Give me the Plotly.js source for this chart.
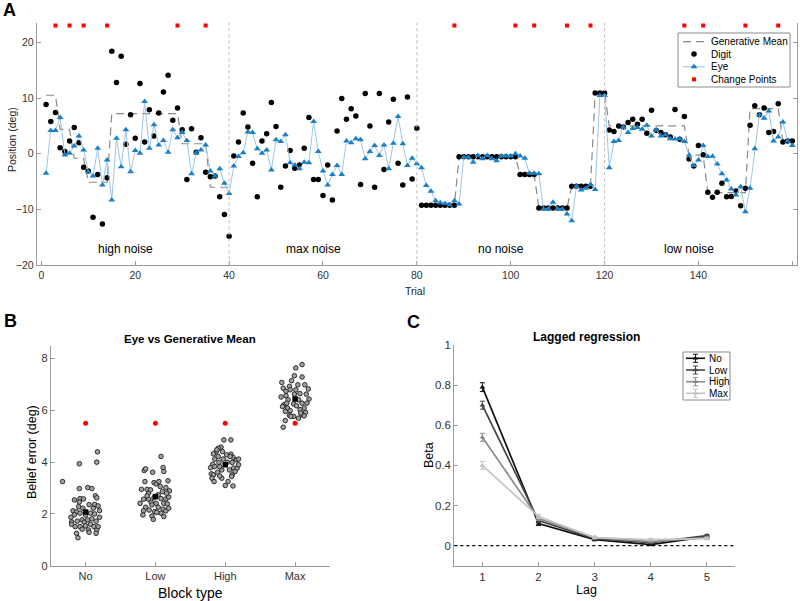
<!DOCTYPE html>
<html><head><meta charset="utf-8">
<script src="https://cdn.plot.ly/plotly-3.0.1.min.js"></script>
<style>html,body{margin:0;padding:0;background:#fff}#chart{width:800px;height:601px}</style>
</head><body><div id="chart"></div>
<script>
// ---------- Panel A data (trials 1..160) ----------
const digit = [
 8.85,5.8,7.4,1.1,0.4,2.3,4.7,2.0,-2.4,-3.1,-11.4,-3.7,-12.6,-4.3,18.4,12.8,17.5,1.7,7.0,2.8,
 12.6,2.1,7.9,3.2,7.3,11.1,14.1,6.0,8.2,4.3,-4.6,4.5,0.3,2.9,-3.3,-4.1,-4.0,-7.7,-10.9,-14.8,
 -0.4,2.1,7.3,4.8,-1.7,-7.7,2.3,3.6,9.2,4.9,-6.0,-2.2,0.6,-2.6,-2.0,1.0,6.5,-4.6,-4.6,-7.5,
 -2.0,-8.3,4.1,9.9,6.2,8.1,6.8,-5.5,10.8,5.0,-6.0,10.8,-2.8,5.7,9.8,-1.7,-5.6,10.2,-4.5,4.6,
 -9.25,-9.25,-9.25,-9.25,-9.25,-9.25,-9.25,-9.25,-0.55,-0.55,-0.55,-0.55,-0.55,-0.55,-0.55,-0.55,-0.55,-0.55,
 -0.55,-0.55,-0.55,-3.7,-3.7,-3.7,-3.7,-9.7,-9.7,-9.7,-9.7,-9.7,-9.7,-9.7,-5.8,-5.8,-5.8,-5.8,-5.8,10.9,10.9,10.9,
 4.25,4.0,5.0,4.8,5.6,6.2,5.3,6.2,3.7,7.8,4.2,3.8,3.4,3.0,7.95,2.6,6.7,-0.95,-2.2,1.5,
 -0.15,-6.9,-7.8,-6.9,-5.3,-7.7,-7.65,-6.65,-9.3,-6.2,5.1,8.6,7.0,8.2,3.8,4.0,9.0,2.1,2.3,2.3
];
const eye = [
 -3.5,4.2,4.2,6.5,-0.2,0.1,1.4,3.2,0.7,-3.2,-4.0,1.0,-5.6,-1.1,-8.3,2.8,-2.3,4.3,-3.2,0.6,
 0.1,9.4,1.0,5.2,1.6,2.4,0.3,4.3,2.9,3.8,2.4,-3.6,0.2,0.7,1.6,-3.1,-4.0,-2.7,-5.3,-7.1,
 -2.2,-0.5,0.2,3.9,3.8,0.9,0.1,0.7,-2.9,2.5,2.2,3.4,-1.6,-2.0,-2.7,-1.5,-1.6,5.8,0.4,-3.1,
 -5.6,-3.7,-2.1,-3.7,2.3,2.0,2.7,2.5,-0.9,0.4,1.5,-0.3,1.6,-2.7,1.9,6.7,1.8,-2.1,-0.8,-1.8,
 -2.5,-5.7,-6.7,-8.4,-8.8,-8.9,-9.2,-8.4,-9.0,-0.6,-0.6,-1.5,-0.3,-0.9,-0.3,-0.9,-1.25,-0.4,-0.4,-0.4,
 0.0,-0.4,-0.8,-3.5,-3.5,-3.6,-9.9,-9.9,-8.7,-9.9,-9.9,-10.8,-12.0,-5.8,-6.5,-6.2,-5.5,-6.4,10.45,10.45,
 -2.5,2.2,2.4,4.8,3.8,4.55,4.7,4.4,5.1,3.2,4.3,3.2,3.4,2.7,2.65,2.7,2.2,-0.2,-2.1,-1.1,
 1.5,-0.5,-0.45,-1.85,-3.6,-4.7,-6.3,-7.4,-5.9,-10.4,-6.2,0.9,7.0,6.4,7.7,2.3,3.0,5.7,2.3,1.5
];
const genMean = [
 10.5,10.5,10.5,4.4,4.4,4.4,-0.8,-0.8,-0.8,-5.1,-5.1,-5.1,-5.1,-5.1,7.2,7.2,7.2,7.2,7.2,7.2,
 7.2,7.2,7.2,7.2,7.2,7.2,7.2,7.2,7.2,1.8,1.8,1.8,1.8,1.8,1.8,-6.0,-6.0,-6.0,-6.0,-6.0,
 null,null,null,null,null,null,null,null,null,null,null,null,null,null,null,null,null,null,null,null,
 null,null,null,null,null,null,null,null,null,null,null,null,null,null,null,null,null,null,null,null,
 -9.25,-9.25,-9.25,-9.25,-9.25,-9.25,-9.25,-9.25,-0.55,-0.55,-0.55,-0.55,-0.55,-0.55,-0.55,-0.55,-0.55,-0.55,
 -0.55,-0.55,-0.55,-3.7,-3.7,-3.7,-3.7,-9.7,-9.7,-9.7,-9.7,-9.7,-9.7,-9.7,-5.8,-5.8,-5.8,-5.8,-5.8,10.9,10.9,10.9,
 5.0,5.0,5.0,5.0,5.0,5.0,5.0,5.0,5.0,5.0,5.0,5.0,5.0,5.0,5.0,5.0,5.0,-0.25,-0.25,-0.25,
 -0.25,-6.95,-6.95,-6.95,-6.95,-6.95,-6.95,-6.95,-6.95,-6.95,8.1,8.1,8.1,8.1,8.1,8.1,8.1,2.3,2.3,2.3
];
const changePoints = [3,6,9,14,29,35,88,101,105,112,117,137,141,150,157];
const changeLevel = 23;
const blockNames = ["high noise","max noise","no noise","low noise"];
const blockCenters = [18,58,98,138];
const blockEdges = [40,80,120];
const legendNamesA = ["Generative Mean","Digit","Eye","Change Points"];

// ---------- Panel B data ----------
const blockTypes = ["No","Low","High","Max"];
const errNo  = [3.25,3.94,4.40,4.00,2.98,3.02,2.98,2.59,2.58,2.70,2.62,2.36,2.46,2.37,2.31,2.12,2.08,1.97,2.03,2.03,2.00,1.87,1.69,1.72,1.60,1.77,1.68,1.77,1.81,1.72,1.51,1.51,1.54,1.60,1.51,1.38,1.38,1.41,1.25,1.08,1.25,1.29,1.87,2.28,2.22,1.96,2.22,2.54,2.13,1.51];
const jitNo  = [-0.33,-0.09,0.17,0.16,-0.09,0.03,0.09,-0.08,-0.03,0.14,0.16,0.05,-0.09,0.13,0.18,-0.18,-0.13,-0.16,-0.08,0.07,0.13,0.20,-0.20,-0.12,-0.20,-0.05,-0.02,0.03,0.09,0.15,-0.15,-0.08,0.00,0.07,0.12,0.16,0.04,-0.05,-0.13,-0.11,0.15,0.05,-0.21,-0.10,0.11,0.00,-0.04,-0.16,0.20,0.18];
const errLow = [4.22,3.68,3.74,3.61,3.79,3.64,3.25,3.28,2.95,2.95,3.21,3.16,3.06,3.02,2.89,2.80,2.74,2.86,2.57,2.57,2.63,2.59,2.58,2.45,2.41,2.41,2.65,2.26,2.35,2.26,2.19,2.39,2.12,2.15,2.09,2.03,2.12,1.96,1.92,1.79,2.06,1.90,2.70,2.22,2.93,3.25,2.41,2.80];
const jitLow = [0.08,-0.16,-0.14,-0.04,0.11,0.12,-0.15,0.18,-0.20,-0.12,-0.02,0.01,0.07,0.15,0.20,-0.10,0.04,0.10,-0.17,-0.10,-0.02,0.08,0.15,-0.06,0.01,0.12,0.19,-0.14,-0.05,0.04,0.11,0.17,-0.17,-0.09,-0.01,0.08,0.15,-0.18,-0.05,-0.03,0.02,0.12,-0.12,0.19,-0.07,0.05,-0.22,0.16];
const errHigh = [4.86,4.86,4.58,4.54,4.41,4.32,4.41,4.28,4.31,4.19,3.92,3.79,4.12,3.99,4.12,4.00,3.99,4.09,4.12,3.55,3.51,3.61,3.70,3.70,3.77,3.77,3.38,3.25,3.38,3.51,3.64,3.10,3.08,3.83,3.83,4.22,4.22,3.25,3.47,3.90,4.48,3.45];
const jitHigh = [-0.02,0.08,-0.06,-0.10,-0.13,-0.17,-0.04,0.02,0.08,0.11,-0.18,-0.21,-0.15,-0.09,-0.03,0.03,0.10,0.16,0.19,-0.20,-0.17,-0.11,-0.05,0.06,0.12,0.17,-0.19,-0.16,-0.05,0.10,0.14,0.00,0.11,-0.15,-0.08,0.07,-0.10,0.04,-0.08,0.19,-0.12,0.09];
const errMax = [7.77,7.64,7.29,7.08,7.15,7.34,6.93,6.99,6.86,6.74,6.80,6.63,6.83,6.52,6.57,6.65,6.63,6.22,6.41,6.25,6.41,6.28,6.44,6.15,6.09,5.99,6.18,6.09,5.92,5.96,6.03,5.81,5.77,5.83,5.79,5.70,5.61,5.35,5.77,5.90,6.28,6.80,6.28,6.99];
const jitMax = [0.10,0.01,0.10,-0.19,-0.05,-0.01,-0.08,0.04,-0.17,-0.13,-0.07,-0.01,0.19,-0.20,-0.13,0.07,0.16,-0.16,-0.10,-0.02,0.05,0.10,0.20,-0.18,-0.11,-0.07,0.02,0.13,0.15,-0.14,0.07,-0.08,-0.02,0.10,0.13,0.05,-0.14,-0.17,-0.06,0.08,0.17,0.01,-0.12,0.14];
const meanErr = [2.07,2.67,3.90,6.44];
const refErr = [5.5,5.5,5.5,5.5];

// ---------- Panel C data ----------
const lags = [1,2,3,4,5];
const condNames = ["No","Low","High","Max"];
const betaNo   = [0.79,0.11,0.030,0.005,0.045];
const betaLow  = [0.70,0.125,0.035,0.015,0.050];
const betaHigh = [0.54,0.135,0.040,0.020,0.040];
const betaMax  = [0.40,0.145,0.040,0.030,0.035];
const seNo   = [0.022,0.010,0.006,0.005,0.006];
const seLow  = [0.020,0.010,0.006,0.005,0.006];
const seHigh = [0.020,0.010,0.006,0.005,0.006];
const seMax  = [0.020,0.010,0.006,0.005,0.006];

const FONT = "Liberation Sans, Arial, Helvetica, sans-serif";
const trials = digit.map((_, i) => i + 1);

// styles
const stGen = {color:'#8a8a8a', width:1.2, dash:'8px,5px'};
const stDigit = {color:'#000', size:5.5, symbol:'circle'};
const stEyeLine = {color:'#9cc6e8', width:1};
const stEyeMk = {color:'#1b7fc4', size:6, symbol:'triangle-up'};
const stCP = {color:'#ff0000', size:4, symbol:'square'};
const colC = ['#111111','#454545','#8a8a8a','#c4c4c4'];

const traces = [];
// Panel A
traces.push({x: trials, y: genMean, type:'scatter', mode:'lines', line:stGen, connectgaps:false, xaxis:'x', yaxis:'y', showlegend:false});
traces.push({x: trials, y: digit, type:'scatter', mode:'markers', marker:stDigit, xaxis:'x', yaxis:'y', showlegend:false});
traces.push({x: trials, y: eye, type:'scatter', mode:'lines+markers', line:stEyeLine, marker:stEyeMk, xaxis:'x', yaxis:'y', showlegend:false});
traces.push({x: changePoints, y: changePoints.map(() => changeLevel), type:'scatter', mode:'markers', marker:stCP, xaxis:'x', yaxis:'y', showlegend:false});

// Panel B
const groupsB = [[errNo, jitNo], [errLow, jitLow], [errHigh, jitHigh], [errMax, jitMax]];
groupsB.forEach((g, k) => {
  traces.push({x: g[1].map(j => k + 1 + j), y: g[0], type:'scatter', mode:'markers', showlegend:false,
    marker:{color:'#a0a0a0', size:4.6, line:{color:'#1e1e1e', width:0.9}}, xaxis:'x2', yaxis:'y2'});
});
traces.push({x: blockTypes.map((_, i) => i + 1), y: refErr, type:'scatter', mode:'markers', showlegend:false,
  marker:{color:'#ff0000', size:5}, xaxis:'x2', yaxis:'y2'});
traces.push({x: blockTypes.map((_, i) => i + 1), y: meanErr, type:'scatter', mode:'markers', showlegend:false,
  marker:{color:'#000', size:5.5, symbol:'square'}, xaxis:'x2', yaxis:'y2'});

// Panel C
const betas = [betaNo, betaLow, betaHigh, betaMax], ses = [seNo, seLow, seHigh, seMax];
betas.forEach((b, k) => {
  traces.push({x: lags, y: b, type:'scatter', mode:'lines+markers', showlegend:false,
    line:{color:colC[k], width:1.7}, marker:{color:colC[k], size:5, symbol:'triangle-up'},
    error_y:{type:'data', array:ses[k], visible:true, color:colC[k], thickness:1, width:2.5},
    xaxis:'x3', yaxis:'y3'});
});

// ---------- Legends (drawn on a pixel-space overlay axis x4/y4) ----------
const legA = {x0:678, x1:790, y0:33, y1:87, rows:[41.7,54,66.7,79.3], lx0:683, lx1:705, mx:694, tx:709};
const legC = {x0:683, x1:730, y0:352, y1:400, rows:[358.3,370,381.7,393.3], lx0:686, lx1:705, mx:695.5, tx:707};
const L = (o) => Object.assign({type:'scatter', xaxis:'x4', yaxis:'y4', showlegend:false, hoverinfo:'skip'}, o);
traces.push(L({x:[legA.lx0, legA.lx1], y:[legA.rows[0], legA.rows[0]], mode:'lines', line:stGen}));
traces.push(L({x:[legA.mx], y:[legA.rows[1]], mode:'markers', marker:stDigit}));
traces.push(L({x:[legA.lx0, legA.lx1], y:[legA.rows[2], legA.rows[2]], mode:'lines', line:stEyeLine}));
traces.push(L({x:[legA.mx], y:[legA.rows[2]], mode:'markers', marker:stEyeMk}));
traces.push(L({x:[legA.mx], y:[legA.rows[3]], mode:'markers', marker:stCP}));
condNames.forEach((n, k) => {
  traces.push(L({x:[legC.lx0, legC.lx1], y:[legC.rows[k], legC.rows[k]], mode:'lines', line:{color:colC[k], width:1.6}}));
  traces.push(L({x:[legC.mx], y:[legC.rows[k]], mode:'markers', marker:{color:colC[k], size:5, symbol:'triangle-up'},
    error_y:{type:'data', array:[4], visible:true, color:colC[k], thickness:1, width:2.5}}));
});

const tickFont = {family: FONT, size: 10.5, color:'#333'};
const axBase = {showgrid:false, zeroline:false, showline:true, linecolor:'#9a9a9a', linewidth:1,
  ticks:'inside', ticklen:4, tickcolor:'#9a9a9a', tickfont: tickFont};

const px = v => v / 800, py = v => 1 - v / 601;

const shapes = blockEdges.map(e => ({type:'line', xref:'x', yref:'y domain', x0:e, x1:e, y0:0, y1:1,
  line:{color:'#bdbdbd', width:1, dash:'dot'}}));
shapes.push({type:'line', xref:'x3 domain', yref:'y3', x0:0, x1:1, y0:0, y1:0, line:{color:'#000', width:1.2, dash:'dot'}});
[legA, legC].forEach(g => shapes.push({type:'rect', xref:'x4', yref:'y4', layer:'below', x0:g.x0, x1:g.x1, y0:g.y0, y1:g.y1,
  fillcolor:'#ffffff', line:{color:'#8a8a8a', width:1}}));

const annotations = [];
blockNames.forEach((n, i) => annotations.push({x: blockCenters[i], y: -17, xref:'x', yref:'y', text:n, showarrow:false,
  xanchor:'center', yanchor:'middle', font:{family:FONT, size:12, color:'#000'}}));
const addText = (text, x, y, size, opts = {}) => annotations.push(Object.assign({x: px(x), y: py(y), xref:'paper', yref:'paper',
  text, showarrow:false, xanchor:'center', yanchor:'middle', font:{family:FONT, size, color:'#000'}}, opts));
legendNamesA.forEach((n, k) => addText(n, legA.tx, legA.rows[k], 10, {xanchor:'left'}));
condNames.forEach((n, k) => addText(n, legC.tx, legC.rows[k], 10, {xanchor:'left'}));
addText('<b>A</b>', 1, 10, 18, {xanchor:'left'});
addText('<b>B</b>', 2, 321, 18, {xanchor:'left'});
addText('<b>C</b>', 405, 322, 18, {xanchor:'left'});
addText('Position (deg)', 12, 140, 10.5, {textangle:-90, font:{family:FONT, size:10.5, color:'#222'}});
addText('Trial', 415, 291, 10.5, {font:{family:FONT, size:10.5, color:'#222'}});
addText('<b>Eye vs Generative Mean</b>', 190, 339, 11.5);
addText('Belief error (deg)', 32, 452, 12.5, {textangle:-90});
addText('Block type', 190, 593, 14);
addText('<b>Lagged regression</b>', 586, 337, 12);
addText('Beta', 429, 455, 12.5, {textangle:-90});
addText('Lag', 586, 590, 12.5);

const layout = {
  width: 800, height: 601, autosize:false, margin:{l:0, r:0, t:0, b:0},
  paper_bgcolor:'#fff', plot_bgcolor:'rgba(0,0,0,0)', font:{family:FONT}, showlegend:false,
  xaxis: Object.assign({}, axBase, {domain:[px(36.7), px(797)], range:[-1,161], tickvals:[0,20,40,60,80,100,120,140,160], anchor:'y'}),
  yaxis: Object.assign({}, axBase, {domain:[py(265.3), py(22.8)], range:[-20,23.5], tickvals:[-20,-10,0,10,20], mirror:'ticks', anchor:'x'}),
  xaxis2: Object.assign({}, axBase, {domain:[px(50.7), px(330)], range:[0.5,4.5], tickvals:[1,2,3,4], ticktext:blockTypes, anchor:'y2',
    tickfont:{family:FONT, size:11, color:'#333'}}),
  yaxis2: Object.assign({}, axBase, {domain:[py(565.7), py(345.7)], range:[0,8.5], tickvals:[0,2,4,6,8], anchor:'x2',
    tickfont:{family:FONT, size:11, color:'#333'}}),
  xaxis3: Object.assign({}, axBase, {domain:[px(454.3), px(735)], range:[0.5,5.5], tickvals:lags, anchor:'y3',
    tickfont:{family:FONT, size:11.5, color:'#333'}}),
  yaxis3: Object.assign({}, axBase, {domain:[py(565.7), py(345)], range:[-0.1,1], tickvals:[0,0.2,0.4,0.6,0.8,1], anchor:'x3',
    tickfont:{family:FONT, size:11.5, color:'#333'}}),
  xaxis4: {domain:[0,1], range:[0,800], visible:false, fixedrange:true, anchor:'y4'},
  yaxis4: {domain:[0,1], range:[601,0], visible:false, fixedrange:true, anchor:'x4'},
  shapes, annotations
};

Plotly.newPlot('chart', traces, layout, {displayModeBar:false, staticPlot:true});
</script></body></html>
